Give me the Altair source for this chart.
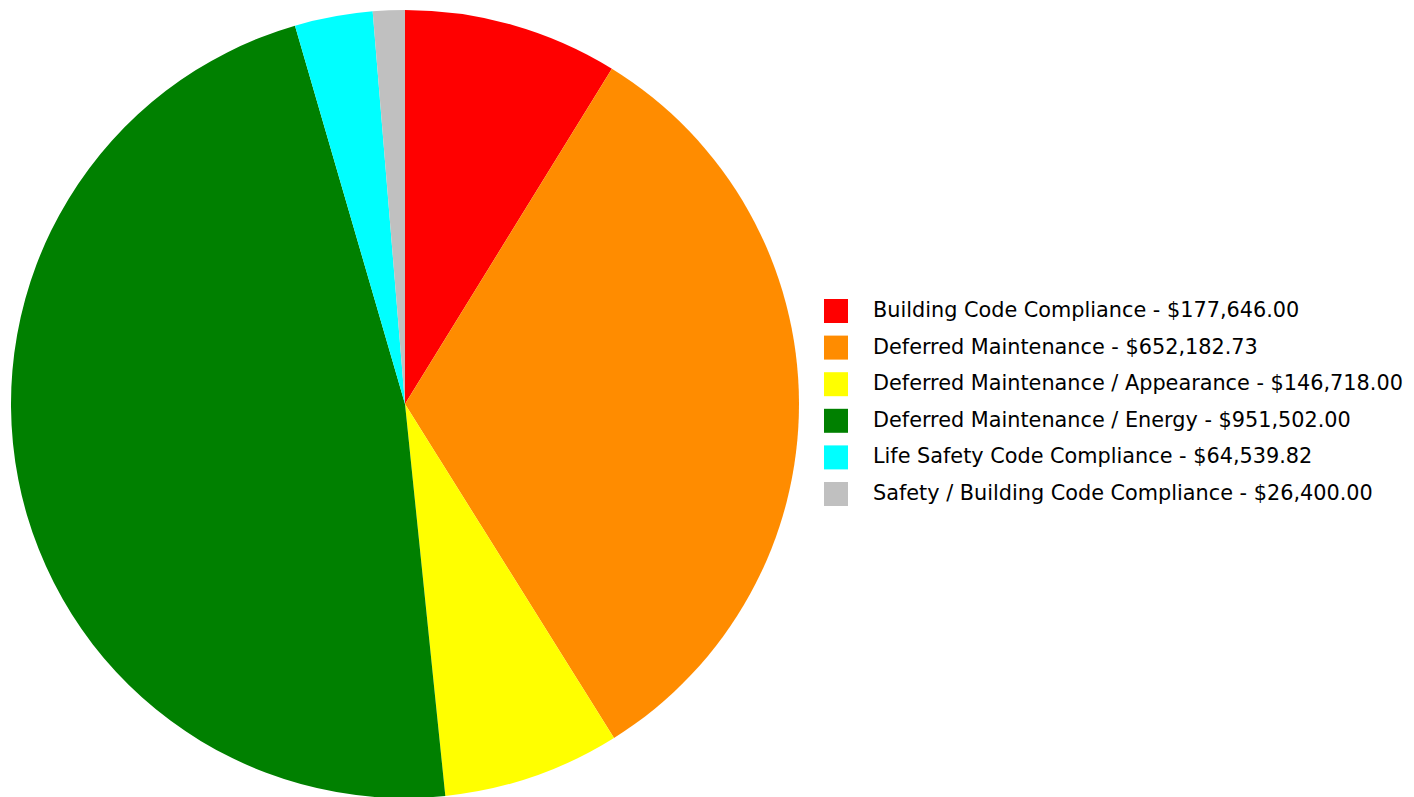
import altair as alt
import pandas as pd

categories = [
    "Building Code Compliance",
    "Deferred Maintenance",
    "Deferred Maintenance / Appearance",
    "Deferred Maintenance / Energy",
    "Life Safety Code Compliance",
    "Safety / Building Code Compliance",
]
amounts = [177646.00, 652182.73, 146718.00, 951502.00, 64539.82, 26400.00]
colors = ["#FF0000", "#FF8C00", "#FFFF00", "#008000", "#00FFFF", "#C0C0C0"]

labels = [f"{c} - ${v:,.2f}" for c, v in zip(categories, amounts)]
df = pd.DataFrame({"label": labels, "amount": amounts, "order": list(range(len(labels)))})

chart = (
    alt.Chart(df)
    .mark_arc(radius=394, stroke=None, strokeWidth=0)
    .encode(
        theta=alt.Theta("amount:Q", stack=True),
        order=alt.Order("order:Q"),
        x=alt.value(405),
        y=alt.value(404),
        color=alt.Color(
            "label:N",
            sort=labels,
            scale=alt.Scale(domain=labels, range=colors),
            legend=alt.Legend(
                title=None,
                orient="none",
                legendX=824,
                legendY=299,
                symbolType="square",
                symbolSize=576,
                symbolStrokeWidth=0,
                labelFontSize=20.8,
                labelFont="DejaVu Sans",
                labelColor="#000000",
                labelOffset=25,
                rowPadding=12.6,
                labelLimit=800,
                padding=0,
            ),
        ),
    )
    .properties(width=1414, height=797, autosize=alt.AutoSizeParams(type="none"), padding=0)
    .configure_view(stroke=None)
)

chart.save("out.html", embed_options={"renderer": "svg", "actions": False})
